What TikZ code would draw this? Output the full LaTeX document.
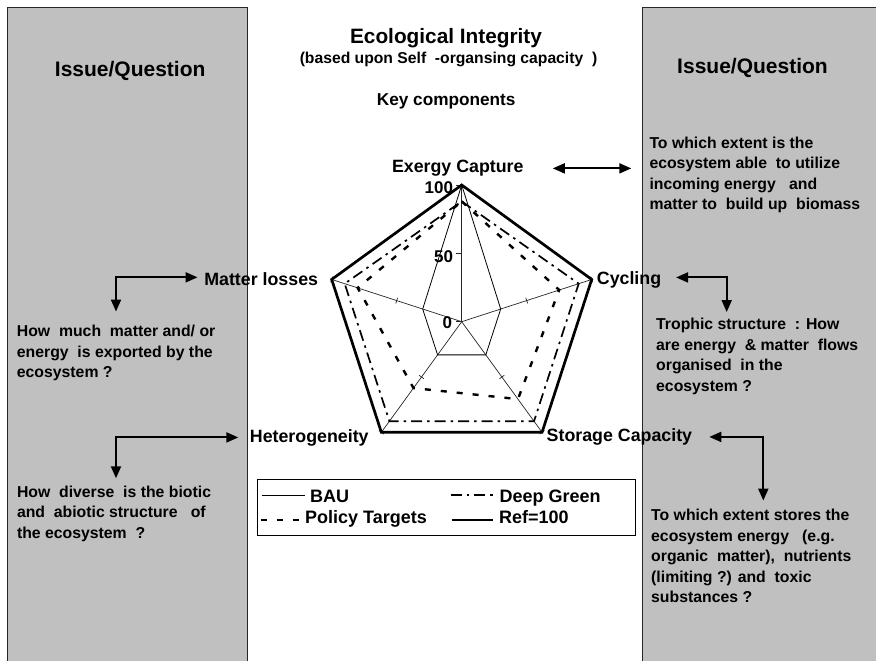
\documentclass[tikz,border=0pt]{standalone}
\usepackage{fontspec}
\setmainfont{Liberation Sans}
\usetikzlibrary{calc,arrows.meta}
\definecolor{panelgray}{HTML}{C0C0C0}
% multi-line text block whose base is the first line's baseline
\newcommand\qlines[1]{\begin{tabular}[t]{@{}l@{}}#1\end{tabular}}

\begin{document}
\begin{tikzpicture}[x=1pt,y=-1pt,
  heading/.style={inner sep=0pt, anchor=base, font=\fontsize{21}{24}\selectfont\bfseries},
  lbl/.style={inner sep=0pt, font=\fontsize{17.8}{20}\selectfont\bfseries},
  body/.style={inner sep=0pt, anchor=base west, font=\fontsize{15.8}{20.5}\selectfont\bfseries},
  legtext/.style={inner sep=0pt, anchor=base west, font=\fontsize{18}{21}\selectfont\bfseries},
  ticklbl/.style={inner sep=0pt, anchor=base east, font=\fontsize{17}{20}\selectfont\bfseries},
  paneledge/.style={draw=black!85, line width=0.9pt},
  axisline/.style={black!85, line width=0.7pt},
  baul/.style={black, line width=0.8pt, line join=miter},
  policyl/.style={black, line width=2.4pt, dash pattern=on 6pt off 10pt},
  greenl/.style={black, line width=1.7pt, dash pattern=on 11pt off 5pt on 2.5pt off 5pt},
  refl/.style={black, line width=2.7pt, line join=miter},
  dblarrow/.style={line width=2pt, {Triangle[length=12pt,width=10pt]}-{Triangle[length=12pt,width=10pt]}},
]
\useasboundingbox (0,0) rectangle (876,661);
\fill[white] (0,0) rectangle (876,661);

% side panels
\fill[panelgray] (7.8,7.3) rectangle (247.5,661);
\draw[paneledge] (7.8,661) -- (7.8,7.3) -- (247.5,7.3) -- (247.5,661);
\fill[panelgray] (642.5,7.3) rectangle (876,661);
\draw[paneledge] (642.5,661) -- (642.5,7.3) -- (876,7.3);

% headings
\node[heading, font=\fontsize{20.8}{24}\selectfont\bfseries] (title) at (446,43.3) {Ecological Integrity};
\node[heading, font=\fontsize{15.7}{18}\selectfont\bfseries] (subtitle) at (448.5,64) {(based upon Self\ \ -organsing capacity\ \ )};
\node[heading, font=\fontsize{17.2}{20}\selectfont\bfseries] (keyc) at (446.2,106) {Key components};
\node[heading] (iqleft) at (130.2,77) {Issue/Question};
\node[heading] (iqright) at (752.5,74) {Issue/Question};

% radar chart frame: centre and the five axis ends
\coordinate (c) at (461.7,321.7);
\def\R{136.7}
\foreach \i/\ang in {1/90,2/18,3/-54,4/-126,5/162}
  \coordinate (a\i) at ($(c)+({\R*cos(\ang)},{-\R*sin(\ang)})$);

\foreach \i in {1,...,5} \draw[axisline] (c) -- (a\i);
\foreach \f in {0,0.5,1} \draw[axisline] ($(c)!\f!(a1)$) -- ++(-5.5,0);
\foreach \i in {2,3,4,5}
  \foreach \f in {0.5,1}
    \draw[axisline] ($(c)!\f!(a\i)!3pt!90:(c)$) -- ($(c)!\f!(a\i)!3pt!-90:(c)$);

% data series
\draw[baul] (a1) -- ($(c)!0.3!(a2)$) -- ($(c)!0.3!(a3)$) -- ($(c)!0.3!(a4)$) -- ($(c)!0.3!(a5)$) -- cycle;
\draw[policyl] ($(c)!0.88!(a1)$) -- ($(c)!0.75!(a2)$) -- ($(c)!0.7!(a3)$) -- ($(c)!0.6!(a4)$) -- ($(c)!0.8!(a5)$) -- cycle;
\draw[greenl] ($(c)!0.88!(a1)$) -- ($(c)!0.9!(a2)$) -- ($(c)!0.9!(a3)$) -- ($(c)!0.9!(a4)$) -- ($(c)!0.9!(a5)$) -- cycle;
\draw[refl] (a1) -- (a2) -- (a3) -- (a4) -- (a5) -- cycle;

% scale labels
\node[ticklbl] (v100) at (453.3,193.3) {100};
\node[ticklbl] (v50) at (453.3,262.3) {50};
\node[ticklbl] (v0) at (452.3,328.3) {0};

% component labels
\node[lbl, anchor=base] (exg) at (457.8,172.7) {Exergy Capture};
\node[lbl, anchor=base east] (mll) at (318.3,285) {Matter losses};
\node[lbl, anchor=base west] (cyc) at (596.7,284) {Cycling};
\node[lbl, anchor=base west] (hetl) at (249.7,442) {Heterogeneity};
\node[lbl, anchor=base west] (stl) at (546.5,441.5) {Storage Capacity};

% questions
\node[body] (eqt) at (649.3,148.3) {\qlines{To which extent is the\\ecosystem able\ \ to utilize\\incoming energy\ \ \ and\\matter to\ \ build\ up\ \ biomass}};
\node[body] (cyt) at (656,329.5) {\qlines{Trophic structure\ \ : How\\are energy\ \ \& matter\ \ flows\\organised\ \ in the\\ecosystem ?}};
\node[body] (stt) at (651,520.7) {\qlines{To which extent stores the\\ecosystem energy\ \ \ (e.g.\\organic\ \ matter),\ \ nutrients\\(limiting ?) and\ \ toxic\\substances\ ?}};
\node[body] (mlt) at (16.7,336.7) {\qlines{How\ \ much\ \ matter and/ or\\energy\ \ is exported by the\\ecosystem ?}};
\node[body] (het) at (16.8,497) {\qlines{How\ \ diverse\ \ is the biotic\\and\ \ abiotic structure\ \ \ of\\the ecosystem\ \ ?}};

% connectors between components and questions
\draw[dblarrow, shorten >=18pt] ([xshift=29pt]exg.east) -- (exg.east -| eqt.west);
\draw[dblarrow] ([xshift=-6.6pt,yshift=1.3pt]mll.west) -| ([xshift=99.3pt,yshift=10.6pt]mlt.north west);
\draw[dblarrow] ([xshift=14.7pt,yshift=2pt]cyc.east) -| ([xshift=70.7pt,yshift=2.9pt]cyt.north west);
\draw[dblarrow] ([xshift=17pt]stl.east) -| ([xshift=112.3pt,yshift=5.6pt]stt.north west);
\draw[dblarrow] ([xshift=-11.4pt]hetl.west) -| ([xshift=99.2pt,yshift=4.2pt]het.north west);

% legend
\node[draw=black, line width=0.9pt, minimum width=378.3pt, minimum height=55.3pt, anchor=north west, inner sep=0pt] (leg) at (256.7,479.3) {};
\node[legtext] (lbau) at (310,502.7) {BAU};
\node[legtext] (lgreen) at (499.3,502.7) {Deep Green};
\node[legtext] (lpol) at (305,523.5) {Policy Targets};
\node[legtext] (lref) at (499,523.5) {Ref=100};
\draw[baul] (261.7,495) -- (305,495);
\draw[greenl] (450.7,495) -- (495,495);
\draw[policyl] (260.7,520) -- (300,520);
\draw[refl] (451.7,520) -- (493.3,520);
\end{tikzpicture}
\end{document}
